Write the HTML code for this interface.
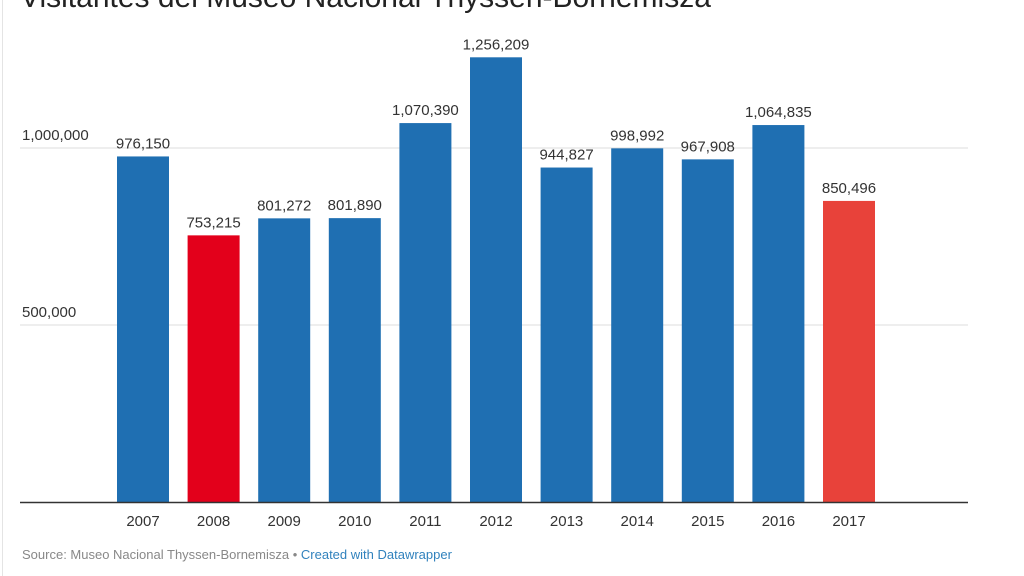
<!DOCTYPE html>
<html><head><meta charset="utf-8"><style>
body{margin:0;width:1024px;height:576px;background:#fff;overflow:hidden;font-family:"Liberation Sans",sans-serif;position:relative}
.ttl{position:absolute;left:20px;top:-19px;font-size:30px;color:#222;white-space:nowrap}
.src{position:absolute;left:22px;top:547px;font-size:13px;color:#888}
.src span{color:#3182bd}
.edge{position:absolute;left:2px;top:0;width:1px;height:576px;background:#e4e4e4}
</style></head><body>
<div class="edge"></div>
<div class="ttl">Visitantes del Museo Nacional Thyssen-Bornemisza</div>
<svg id="c" width="1024" height="576" style="position:absolute;left:0;top:0"></svg>
<div class="src">Source: Museo Nacional Thyssen-Bornemisza • <span>Created with Datawrapper</span></div>
<script>
const years=["2007","2008","2009","2010","2011","2012","2013","2014","2015","2016","2017"];
const visitors=[976150,753215,801272,801890,1070390,1256209,944827,998992,967908,1064835,850496];
const barColors=["#1f6fb2","#e3001b","#1f6fb2","#1f6fb2","#1f6fb2","#1f6fb2","#1f6fb2","#1f6fb2","#1f6fb2","#1f6fb2","#e8423a"];
const ticks=[500000,1000000];
const tickLabels=["500,000","1,000,000"];
const svg=document.getElementById('c');const NS="http://www.w3.org/2000/svg";
const y0=502,k=354/1e6;
const y=v=>y0-v*k;
const x=i=>117+i*70.6;
const bw=52;
function mk(t,a){const e=document.createElementNS(NS,t);for(const n in a)e.setAttribute(n,a[n]);svg.appendChild(e);return e;}
ticks.forEach((t,i)=>{
 const g=mk('line',{x1:20,x2:968,y1:y(t),y2:y(t),stroke:'#dcdcdc','stroke-width':1});
 
 
 const l=mk('text',{x:22,y:y(t)-8,'font-size':15,fill:'#333','font-family':'Liberation Sans'});
 l.textContent=tickLabels[i];
 
 
});
visitors.forEach((v,i)=>{
 const r=mk('rect',{x:x(i),y:y(v),width:bw,height:y0-y(v),fill:barColors[i]});
 
 
 const t=mk('text',{x:x(i)+bw/2,y:y(v)-8,'font-size':15,fill:'#333','text-anchor':'middle','font-family':'Liberation Sans'});
 t.textContent=v.toLocaleString('en-US');
 
 
 const yl=mk('text',{x:x(i)+bw/2,y:526,'font-size':15,fill:'#333','text-anchor':'middle','font-family':'Liberation Sans'});
 yl.textContent=years[i];
 
 
});
const b=mk('line',{x1:20,x2:968,y1:y0+0.5,y2:y0+0.5,stroke:'#333','stroke-width':1.5});


</script>
</body></html>
